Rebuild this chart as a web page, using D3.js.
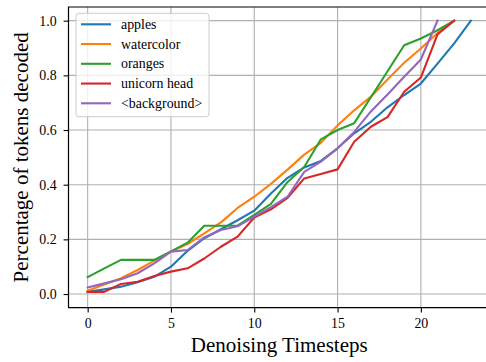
<!DOCTYPE html>
<html lang="en">
<head>
    <meta charset="UTF-8">
    <title>Percentage of tokens decoded</title>
    <script src="https://d3js.org/d3.v7.min.js"></script>
    <style>
        body {
            margin: 0;
            background-color: #ffffff;
        }
        svg {
            display: block;
        }
    </style>
</head>
<body>
    <svg width="486" height="362"></svg>

    <script>
        // Data
        var labels = ["apples", "watercolor", "oranges", "unicorn head", "<background>"];
        var colors = ["#1f77b4", "#ff7f0e", "#2ca02c", "#d62728", "#9467bd"];

        var apples = [0.008, 0.017, 0.027, 0.043, 0.063, 0.100, 0.158, 0.204, 0.237, 0.270, 0.305, 0.368,
                      0.425, 0.463, 0.487, 0.533, 0.588, 0.630, 0.683, 0.728, 0.770, 0.843, 0.917, 1.000];
        var watercolor = [0.012, 0.035, 0.058, 0.088, 0.122, 0.155, 0.183, 0.222, 0.262, 0.315, 0.356, 0.403,
                          0.455, 0.510, 0.553, 0.617, 0.672, 0.722, 0.785, 0.846, 0.898, 0.955, 1.000];
        var oranges = [0.062, 0.094, 0.125, 0.125, 0.125, 0.156, 0.188, 0.250, 0.250, 0.250, 0.290, 0.330,
                       0.410, 0.465, 0.566, 0.600, 0.625, 0.720, 0.815, 0.910, 0.935, 0.965, 1.000];
        var unicornHead = [0.008, 0.008, 0.037, 0.045, 0.066, 0.082, 0.094, 0.130, 0.173, 0.210, 0.280, 0.310,
                           0.352, 0.423, 0.439, 0.456, 0.557, 0.612, 0.647, 0.740, 0.792, 0.950, 1.000];
        var background = [0.024, 0.039, 0.054, 0.076, 0.112, 0.155, 0.161, 0.207, 0.234, 0.248, 0.283, 0.318,
                          0.356, 0.447, 0.484, 0.533, 0.593, 0.668, 0.730, 0.795, 0.858, 1.000];

        var xTicks = [0, 5, 10, 15, 20];
        var yTicks = [0, 0.2, 0.4, 0.6, 0.8, 1.0];

        var series = [apples, watercolor, oranges, unicornHead, background];

        var serif = "'Liberation Serif', 'Times New Roman', 'DejaVu Serif', serif";

        // Axes box (matplotlib style, right edge is cropped off)
        var margin = { top: 7, left: 68.5, right: 490, bottom: 307.7 };

        var svg = d3.select("svg").attr("font-family", serif);

        var x = d3.scaleLinear()
                  .domain([-1.15, 24.15])
                  .range([margin.left, margin.right]);

        var y = d3.scaleLinear()
                  .domain([-0.05, 1.05])
                  .range([margin.bottom, margin.top]);

        // Grid
        var grid = svg.append("g").attr("stroke", "#b0b0b0").attr("stroke-width", 1.1);
        grid.selectAll(".gx")
            .data(xTicks)
            .enter().append("line")
            .attr("x1", d => x(d)).attr("x2", d => x(d))
            .attr("y1", margin.top).attr("y2", margin.bottom);
        grid.selectAll(".gy")
            .data(yTicks)
            .enter().append("line")
            .attr("x1", margin.left).attr("x2", margin.right)
            .attr("y1", d => y(d)).attr("y2", d => y(d));

        // Lines
        var line = d3.line()
                     .x((d, i) => x(i))
                     .y(d => y(d));

        svg.append("g")
           .selectAll("path")
           .data(series)
           .enter().append("path")
           .attr("d", d => line(d))
           .attr("fill", "none")
           .attr("stroke", (d, i) => colors[i])
           .attr("stroke-width", 2.1)
           .attr("stroke-linejoin", "round")
           .attr("stroke-linecap", "square");

        // Axes
        var xAxis = svg.append("g")
           .attr("transform", "translate(0," + margin.bottom + ")")
           .call(d3.axisBottom(x).tickValues(xTicks).tickSize(4.9).tickPadding(6));

        var yAxis = svg.append("g")
           .attr("transform", "translate(" + margin.left + ",0)")
           .call(d3.axisLeft(y).tickValues(yTicks).tickFormat(d3.format(".1f")).tickSize(4.9).tickPadding(7));

        [xAxis, yAxis].forEach(function(a) {
            a.attr("font-family", serif).attr("font-size", 13.9);
            a.select(".domain").remove();
            a.selectAll(".tick line").attr("stroke", "#000").attr("stroke-width", 1.1);
            a.selectAll(".tick text").attr("fill", "#000");
        });

        // Spines
        svg.append("path")
           .attr("d", "M" + margin.right + "," + margin.top + "H" + margin.left +
                      "V" + margin.bottom + "H" + margin.right)
           .attr("fill", "none")
           .attr("stroke", "#000")
           .attr("stroke-width", 1.2);

        // Axis labels
        svg.append("text")
           .attr("x", (margin.left + margin.right) / 2)
           .attr("y", 352)
           .attr("text-anchor", "middle")
           .attr("font-size", 21)
           .text("Denoising Timesteps");

        svg.append("text")
           .attr("transform", "translate(28," + (margin.top + margin.bottom) / 2 + ") rotate(-90)")
           .attr("text-anchor", "middle")
           .attr("font-size", 21)
           .text("Percentage of tokens decoded");

        // Legend
        var legend = svg.append("g").attr("transform", "translate(76,13.3)");
        legend.append("rect")
              .attr("width", 133)
              .attr("height", 103.4)
              .attr("rx", 3)
              .attr("fill", "#fff")
              .attr("fill-opacity", 0.8)
              .attr("stroke", "#cccccc")
              .attr("stroke-width", 1);

        var item = legend.selectAll(".item")
              .data(labels)
              .enter().append("g")
              .attr("transform", (d, i) => "translate(0," + (11 + i * 19.75) + ")");

        item.append("line")
            .attr("x1", 5).attr("x2", 35)
            .attr("stroke", (d, i) => colors[i])
            .attr("stroke-width", 2.1);

        item.append("text")
            .attr("x", 45)
            .attr("y", 4.6)
            .attr("font-size", 13.9)
            .text(d => d);
    </script>
</body>
</html>
